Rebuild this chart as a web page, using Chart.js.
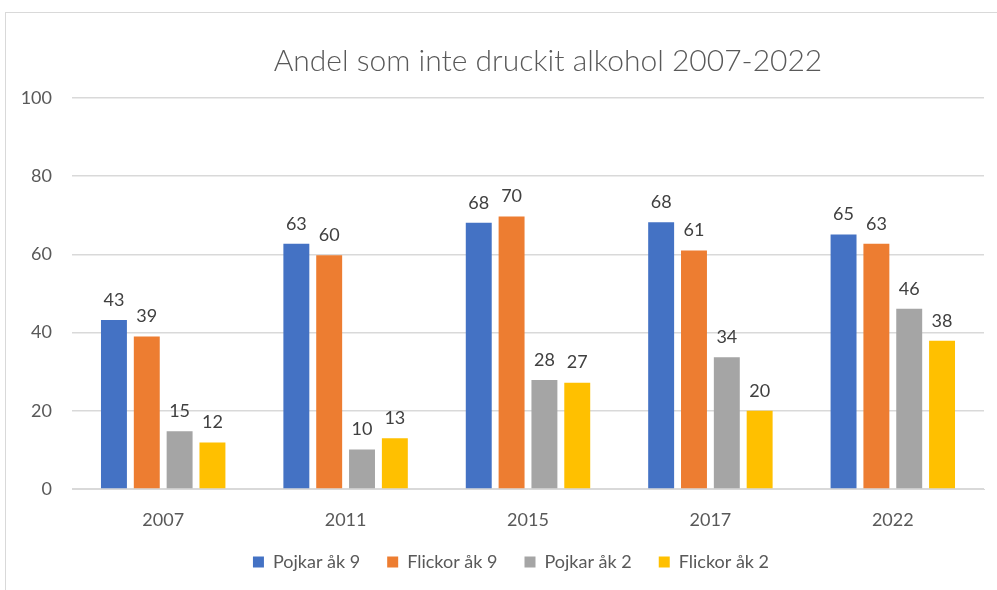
<!DOCTYPE html>
<html><head><meta charset="utf-8">
<script src="https://cdn.jsdelivr.net/npm/chart.js@4/dist/chart.umd.min.js"></script>
<style>
html,body{margin:0;padding:0;background:#fff;overflow:hidden;}
#wrap{position:absolute;left:0;top:0;width:997px;height:590px;}
#frame{position:absolute;left:5px;top:12px;width:1200px;height:800px;border:1px solid #d9d9d9;}
</style></head>
<body>
<div id="frame"></div>
<div id="wrap"><canvas id="c" width="997" height="590"></canvas></div>
<script>
const categories = ["2007","2011","2015","2017","2022"];
const seriesNames = ["Pojkar åk 9","Flickor åk 9","Pojkar åk 2","Flickor åk 2"];
const pojkar9 = [43.2, 62.7, 68.1, 68.2, 65.1];
const flickor9 = [39.0, 59.8, 69.7, 61.0, 62.7];
const pojkar2 = [14.8, 10.1, 27.9, 33.7, 46.1];
const flickor2 = [11.9, 13.0, 27.2, 20.0, 37.9];
const colors = ["#4472C4","#ED7D31","#A5A5A5","#FFC000"];
const yTicks = [0,20,40,60,80,100];
const titleText = "Andel som inte druckit alkohol 2007-2022";

const FONT = "Lato, 'Open Sans', sans-serif";

const labelPlugin = {
  id:'valueLabels',
  afterDatasetsDraw(chart){
    const ctx = chart.ctx;
    ctx.save();
    ctx.font = "18px " + FONT;
    ctx.fillStyle = "#404040";
    ctx.textAlign = "center";
    ctx.textBaseline = "middle";
    chart.data.datasets.forEach((ds,i)=>{
      chart.getDatasetMeta(i).data.forEach((bar,j)=>{
        ctx.fillText(String(Math.round(ds.data[j])), bar.x, bar.y - 20);
      });
    });
    ctx.restore();
  }
};
const titlePlugin = {
  id:'customTitle',
  afterDraw(chart){
    const ctx = chart.ctx;
    ctx.save();
    ctx.font = "300 30px " + FONT;
    ctx.fillStyle = "#595959";
    ctx.textAlign = "center";
    ctx.textBaseline = "alphabetic";
    ctx.fillText(titleText, 548, 71);
    ctx.restore();
  }
};
const legendShift = {
  id:'legendShift',
  afterLayout(chart){
    if (chart.legend){ chart.legend.left += 9; chart.legend.right += 9; }
  }
};

new Chart(document.getElementById('c'), {
  type:'bar',
  data:{
    labels:categories,
    datasets:[pojkar9,flickor9,pojkar2,flickor2].map((d,i)=>({
      label:seriesNames[i], data:d, backgroundColor:colors[i],
      categoryPercentage:0.72, barPercentage:0.79
    }))
  },
  options:{
    responsive:false, animation:false,
    layout:{padding:{left:20,right:13,top:98,bottom:9}},
    plugins:{
      title:{display:false},
      tooltip:{enabled:false},
      legend:{
        position:'bottom',
        labels:{boxWidth:11,boxHeight:11,color:"#595959",font:{family:FONT,size:18},padding:27}
      }
    },
    scales:{
      x:{
        grid:{display:false},
        border:{display:true,color:"#d9d9d9"},
        afterFit(s){ s.height = 37; },
        ticks:{color:"#595959",font:{family:FONT,size:18},padding:12}
      },
      y:{
        min:0,max:100,
        afterBuildTicks(s){ s.ticks = yTicks.map(v=>({value:v})); },
        afterFit(s){ s.width = 52; },
        grid:{color:"#d9d9d9",lineWidth:1.5,drawTicks:false},
        border:{display:false},
        ticks:{color:"#595959",font:{family:FONT,size:18},padding:20}
      }
    }
  },
  plugins:[labelPlugin,titlePlugin,legendShift]
});
</script>
</body></html>
